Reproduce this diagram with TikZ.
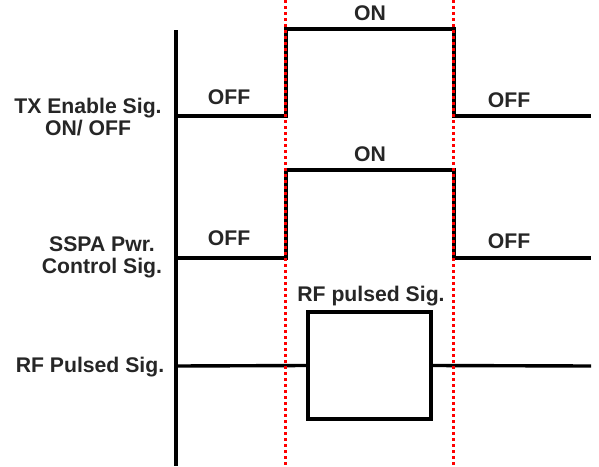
\documentclass[tikz,border=0pt]{standalone}
\usepackage{fontspec}
\setmainfont{Liberation Sans}
\begin{document}
\begin{tikzpicture}[x=1pt,y=-1pt,
  lbl/.style={font=\fontsize{21.2}{24}\selectfont\bfseries, text=black!85, inner sep=0pt, align=center},
  sig/.style={line width=3.4pt, black},
  marker/.style={line width=3pt, red, dash pattern=on 3pt off 3pt},
  axisline/.style={line width=3.4pt, black}]
\useasboundingbox (0,0) rectangle (599,466);
% signal corner coordinates
\coordinate (ax0) at (176,30);
\coordinate (ax1) at (176,466);
\coordinate (t0) at (176,116);
\coordinate (t1) at (286,116);
\coordinate (t2) at (286,29);
\coordinate (t3) at (454,29);
\coordinate (t4) at (454,116);
\coordinate (t5) at (591,116);
\coordinate (s0) at (176,258);
\coordinate (s1) at (286,258);
\coordinate (s2) at (286,170);
\coordinate (s3) at (454,170);
\coordinate (s4) at (454,258);
\coordinate (s5) at (591,258);
\coordinate (r0) at (176,366);
\coordinate (r1) at (591,366);
\coordinate (m1a) at (285,0);
\coordinate (m1b) at (285,466);
\coordinate (m2a) at (453,0);
\coordinate (m2b) at (453,466);
% axis
\draw[axisline] (ax0) -- (ax1);
% signals
\draw[sig] (t0) -- (t1) -- (t2) -- (t3) -- (t4) -- (t5);
\draw[sig] (s0) -- (s1) -- (s2) -- (s3) -- (s4) -- (s5);
\node[draw, line width=3.4pt, minimum width=123pt, minimum height=107pt, inner sep=0pt] (pulse) at (369.5,365.5) {};
\draw[sig] (r0) -- (pulse.west);
\draw[sig] (pulse.east) -- (r1);
% markers
\draw[marker] (m1a) -- (m1b);
\draw[marker] (m2a) -- (m2b);
% labels
\node[lbl] (on1) at (370,13) {ON};
\node[lbl] (on2) at (370,154) {ON};
\node[lbl] (off1) at (229,97) {OFF};
\node[lbl] (off2) at (509,100) {OFF};
\node[lbl] (off3) at (229,238) {OFF};
\node[lbl] (off4) at (509,241) {OFF};
\node[lbl] (rfp) at (371,296) {RF pulsed Sig.};
\node[lbl] (txl) at (88,117) {TX Enable Sig.\\[-2pt]ON/ OFF};
\node[lbl] (sspal) at (102,257) {SSPA Pwr.\\[-2pt]Control Sig.};
\node[lbl] (rfl) at (90,367) {RF Pulsed Sig.};
\end{tikzpicture}
\end{document}
